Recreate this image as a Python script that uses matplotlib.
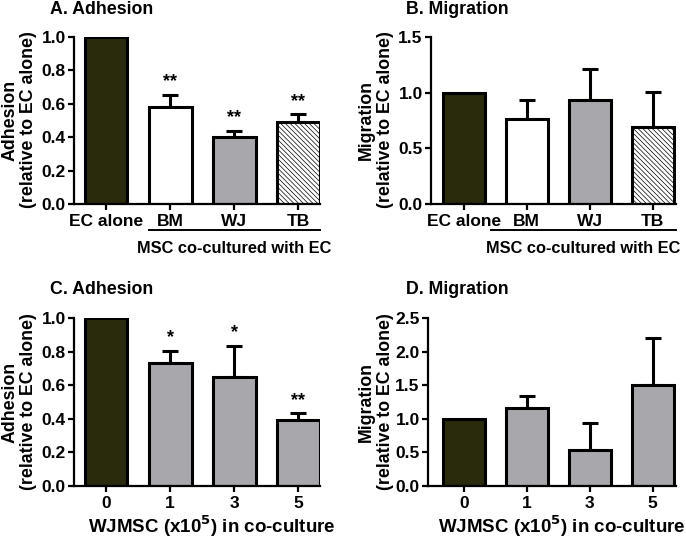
import matplotlib.pyplot as plt
from matplotlib.transforms import blended_transform_factory

plt.rcParams['font.family'] = ['Liberation Sans', 'DejaVu Sans']
plt.rcParams['font.weight'] = 'bold'
plt.rcParams['hatch.linewidth'] = 0.5

# panel A / B: MSC sources
src_labels = ["EC alone", "BM", "WJ", "TB"]
adh_src = [1.0, 0.58, 0.40, 0.49]
adh_src_err = [0.0, 0.075, 0.04, 0.05]
adh_src_sig = ["", "**", "**", "**"]
mig_src = [1.0, 0.76, 0.93, 0.695]
mig_src_err = [0.0, 0.17, 0.28, 0.31]

# panel C / D: WJMSC dose
dose_labels = ["0", "1", "3", "5"]
adh_dose = [1.0, 0.73, 0.65, 0.395]
adh_dose_err = [0.0, 0.075, 0.185, 0.04]
adh_dose_sig = ["", "*", "*", "**"]
mig_dose = [1.0, 1.16, 0.54, 1.50]
mig_dose_err = [0.0, 0.175, 0.395, 0.70]

DARK = "#2a2a0c"
GRAY = "#a8a8ac"

W, H = 686, 538
fig = plt.figure(figsize=(W / 100, H / 100), dpi=100)


def make_ax(left, right, top, bottom):
    return fig.add_axes([left / W, 1 - bottom / H, (right - left) / W, (bottom - top) / H])


def draw(ax, vals, errs, labels, colors, hatches, xlim, ylim, yticks, sig=None):
    x = range(len(vals))
    for i in x:
        ax.bar(i, vals[i], width=0.67, color=colors[i], edgecolor="black",
               linewidth=2.2, hatch=hatches[i], zorder=2)
        if errs[i] > 0:
            ax.errorbar(i, vals[i], yerr=[[0], [errs[i]]], fmt="none", ecolor="black",
                        elinewidth=2.2, capsize=6, capthick=2.2, zorder=1)
        if sig and sig[i]:
            ax.annotate(sig[i], (i, vals[i] + errs[i]), xytext=(0, 3),
                        textcoords="offset points", ha="center", va="bottom",
                        fontsize=13, fontweight="bold")
    ax.set_xlim(*xlim)
    ax.set_ylim(*ylim)
    ax.set_yticks(yticks)
    ax.set_yticklabels(["%.1f" % t for t in yticks])
    ax.set_xticks(list(x))
    ax.set_xticklabels(labels)
    for s in ["top", "right"]:
        ax.spines[s].set_visible(False)
    for s in ["left", "bottom"]:
        ax.spines[s].set_linewidth(1.6)
    ax.tick_params(axis="y", length=4, width=1.6, labelsize=12.5, pad=2)
    ax.tick_params(axis="x", length=4, width=1.6, labelsize=12.5, pad=3)


def under_bracket(ax, x0, x1, text):
    tr = blended_transform_factory(ax.transData, ax.transAxes)
    ax.plot([x0, x1], [-0.155, -0.155], color="black", lw=1.4, transform=tr, clip_on=False)
    ax.text((x0 + x1) / 2, -0.265, text, transform=tr, ha="center", va="center",
            fontsize=11.8, fontweight="bold")


src_colors = [DARK, "white", GRAY, "white"]
src_hatch = [None, None, None, "\\" * 7]

axA = make_ax(74, 320, 37, 204)
draw(axA, adh_src, adh_src_err, src_labels, src_colors, src_hatch,
     (-0.5, 3.34), (0, 1.0), [0, 0.2, 0.4, 0.6, 0.8, 1.0], adh_src_sig)
under_bracket(axA, 0.665, 3.34, "MSC co-cultured with EC")

axB = make_ax(431, 676, 37, 204)
draw(axB, mig_src, mig_src_err, src_labels, src_colors, src_hatch,
     (-0.52, 3.37), (0, 1.5), [0, 0.5, 1.0, 1.5])
under_bracket(axB, 0.43, 3.37, "MSC co-cultured with EC")

dose_colors = [DARK, GRAY, GRAY, GRAY]
dose_hatch = [None] * 4

axC = make_ax(74, 320, 318, 486)
draw(axC, adh_dose, adh_dose_err, dose_labels, dose_colors, dose_hatch,
     (-0.5, 3.34), (0, 1.0), [0, 0.2, 0.4, 0.6, 0.8, 1.0], adh_dose_sig)

axD = make_ax(428, 676, 318, 486)
draw(axD, mig_dose, mig_dose_err, dose_labels, dose_colors, dose_hatch,
     (-0.57, 3.37), (0, 2.5), [0, 0.5, 1.0, 1.5, 2.0, 2.5])

# titles
for px, py, t in [(50, 9, "A. Adhesion"), (406, 9, "B. Migration"),
                  (50, 290, "C. Adhesion"), (406, 290, "D. Migration")]:
    fig.text(px / W, 1 - py / H, t, ha="left", va="center", fontsize=12.8, fontweight="bold")

# y labels
for px, py, t in [(19, 120, "Adhesion"), (376, 120, "Migration"),
                  (19, 402, "Adhesion"), (376, 402, "Migration")]:
    fig.text(px / W, 1 - py / H, t + "\n(relative to EC alone)", rotation=90,
             ha="center", va="center", fontsize=12.8, fontweight="bold",
             linespacing=1.1, multialignment="center")

# x labels
for px in [212, 562]:
    fig.text(px / W, 1 - 526 / H, r"WJMSC (x10$^{\mathbf{5}}$) in co-culture",
             ha="center", va="center", fontsize=13.5, fontweight="bold")

fig.savefig("out.png", dpi=100)
